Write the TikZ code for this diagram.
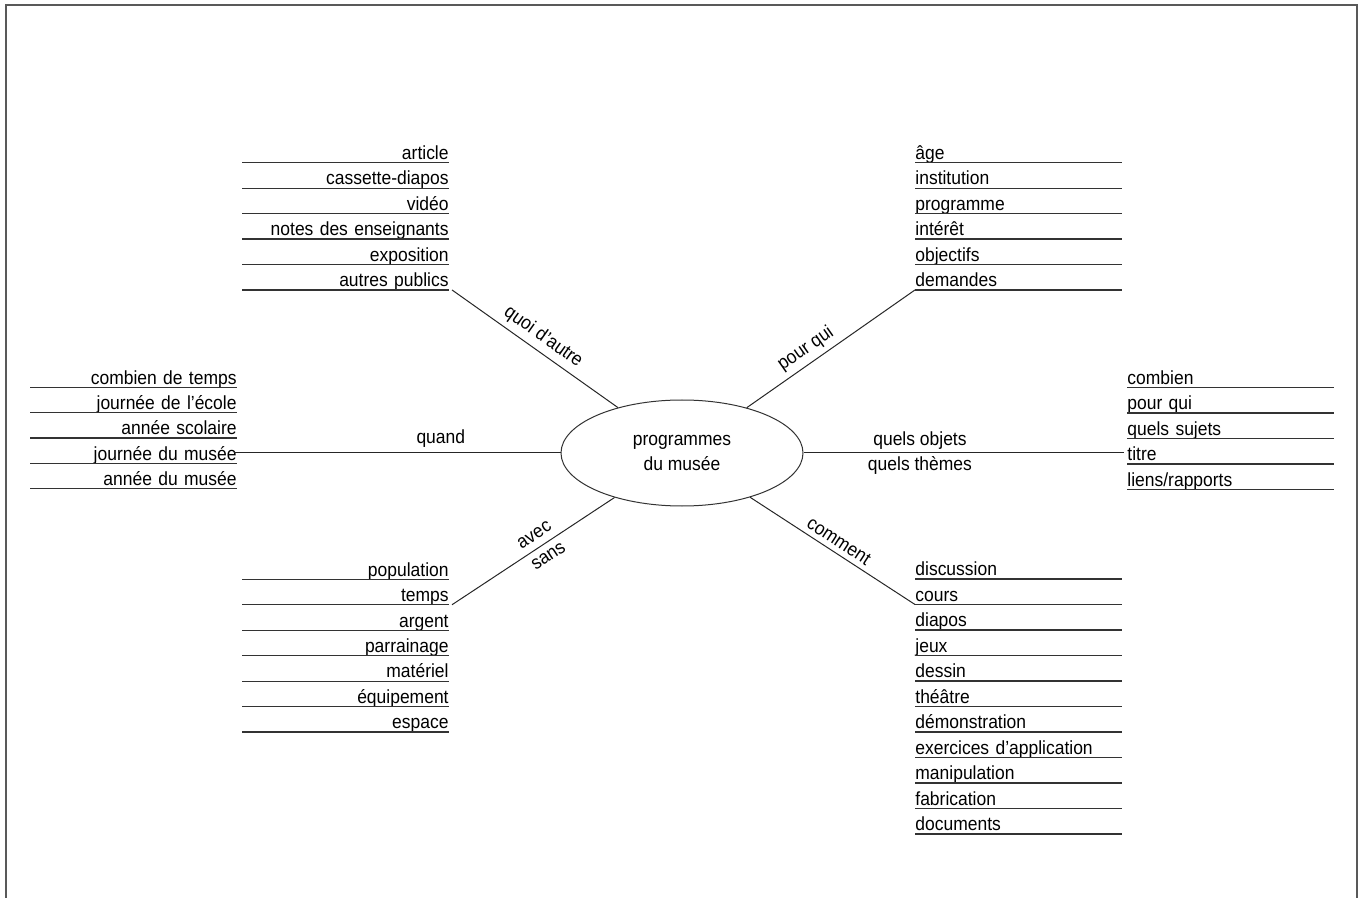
\documentclass[tikz,border=0pt]{standalone}
\usepackage{fontspec}
\setmainfont{Liberation Sans}[FakeStretch=0.92]
\usetikzlibrary{shapes.geometric}
\tikzset{
  entry/.style={inner sep=0pt, text width=103pt, text height=6.9pt, text depth=1.4pt, text=black},
  leftentry/.style={entry, anchor=south east, align=right},
  rightentry/.style={entry, anchor=south west, align=left},
  uline/.style={draw=black!80, line width=0.6pt},
  spoke/.style={draw=black!85, line width=0.5pt},
  lbl/.style={inner sep=2.5pt, text=black},
}
\begin{document}
\begin{tikzpicture}[x=0.5pt, y=-0.5pt, font=\fontsize{9.5}{12.75}\selectfont]
\useasboundingbox (0,0) rectangle (1360,898);
% cadre
\draw[black!65, line width=0.8pt] (6,898) -- (6,5) -- (1357,5) -- (1357,898);
% centre
\node[ellipse, draw=black!80, line width=0.5pt, minimum width=121pt, minimum height=53pt,
  inner sep=0pt, align=center, text=black] (hub) at (682,453) {programmes\\du musée};

% listes
\foreach \t [count=\i from 0] in {article, cassette-diapos, vidéo, notes des enseignants, exposition, autres publics} {
  \node[leftentry] (qa\i) at (449,{162.7+25.45*\i}) {\t};
  \draw[uline] (qa\i.south west) -- (qa\i.south east);
}
\foreach \t [count=\i from 0] in {âge, institution, programme, intérêt, objectifs, demandes} {
  \node[rightentry] (pq\i) at (915,{162.7+25.45*\i}) {\t};
  \draw[uline] (pq\i.south west) -- (pq\i.south east);
}
\foreach \t [count=\i from 0] in {combien de temps, journée de l'école, année scolaire, journée du musée, année du musée} {
  \node[leftentry] (qd\i) at (237,{387.3+25.4*\i}) {\t};
  \draw[uline] (qd\i.south west) -- (qd\i.south east);
}
\foreach \t [count=\i from 0] in {combien, pour qui, quels sujets, titre, liens/rapports} {
  \node[rightentry] (ob\i) at (1127,{387.5+25.5*\i}) {\t};
  \draw[uline] (ob\i.south west) -- (ob\i.south east);
}
\foreach \t [count=\i from 0] in {population, temps, argent, parrainage, matériel, équipement, espace} {
  \node[leftentry] (as\i) at (449,{579.3+25.45*\i}) {\t};
  \draw[uline] (as\i.south west) -- (as\i.south east);
}
\foreach \t [count=\i from 0] in {discussion, cours, diapos, jeux, dessin, théâtre, démonstration,
    exercices d'application, manipulation, fabrication, documents} {
  \node[rightentry] (cm\i) at (915,{579+25.5*\i}) {\t};
  \draw[uline] (cm\i.south west) -- (cm\i.south east);
}

% branches
\draw[spoke] (hub) -- ([xshift=1.5pt]qa5.south east) node[lbl, sloped, above, pos=.5] {quoi d'autre};
\draw[spoke] (hub) -- (pq5.south west) node[lbl, sloped, above, pos=.4] {pour qui};
\draw[spoke, shorten >=-1.5pt] (hub.west) -- (hub.west -| qd3.east) node[lbl, above, pos=.37] {quand};
\draw[spoke, shorten >=1.5pt] (hub.east) -- (hub.east -| ob3.west) node[lbl, align=center, pos=.36] {quels objets\\quels thèmes};
\draw[spoke] (hub) -- ([xshift=1.5pt]as1.south east) node[lbl, sloped, align=center, pos=.45] {avec\\sans};
\draw[spoke] (hub) -- (cm1.south west) node[lbl, sloped, above, pos=.5] {comment};
\end{tikzpicture}
\end{document}
